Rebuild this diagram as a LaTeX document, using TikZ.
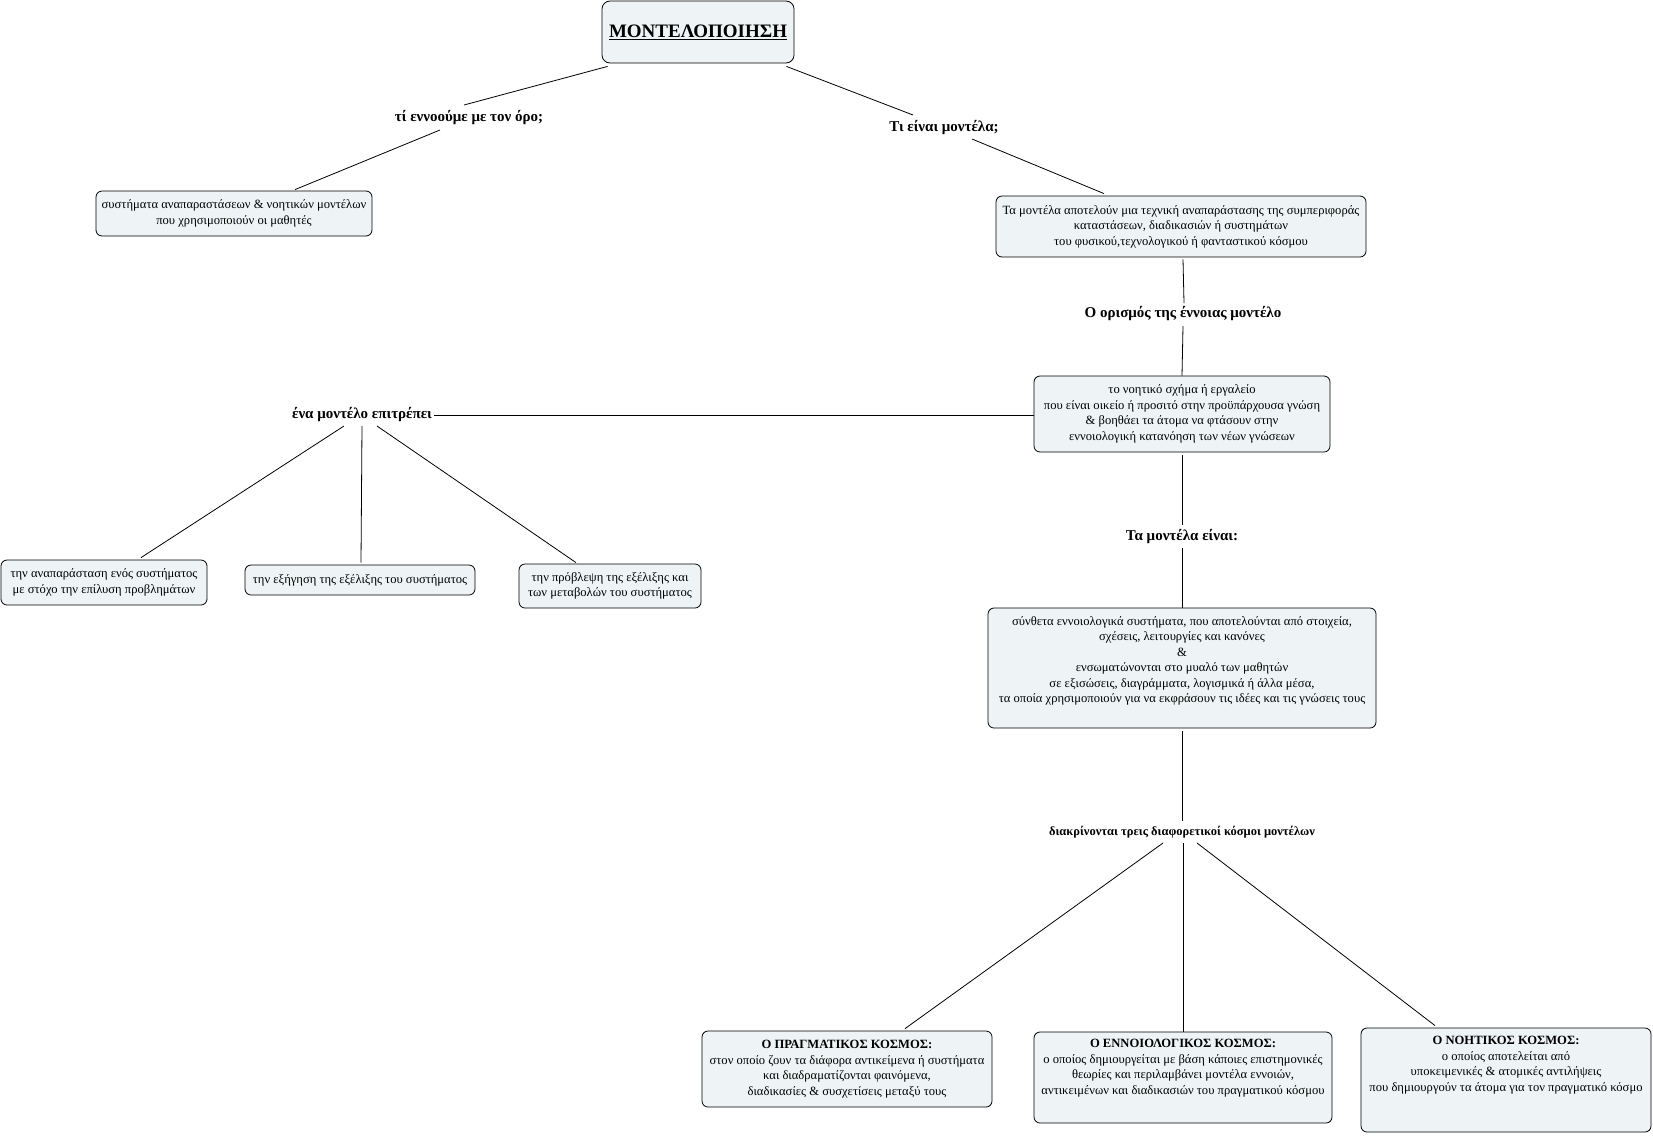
\documentclass[tikz,border=0pt]{standalone}
\usepackage{fontspec}
\setmainfont{Liberation Serif}
\usetikzlibrary{calc}
\definecolor{boxfill}{HTML}{EEF4F5}
\tikzset{
  box/.style={draw=black, fill=boxfill, rounded corners=6pt, line width=0.8pt, inner sep=0pt},
  txt/.style={align=center, font=\fontsize{12.6}{15.5}\selectfont, inner sep=0pt},
  lbl/.style={font=\bfseries\fontsize{15}{17}\selectfont, inner sep=0pt},
  conn/.style={draw=black, line width=0.8pt},
}
\begin{document}
\begin{tikzpicture}[x=1pt,y=-1pt]
\useasboundingbox (0,0) rectangle (1653,1136);
% title
\node[box, rounded corners=8pt, minimum width=192, minimum height=62, font=\bfseries\fontsize{19}{22}\selectfont] (title) at (698,32) {\underline{ΜΟΝΤΕΛΟΠΟΙΗΣΗ}};
% labels
\node[lbl] (q1) at (469,118) {τί εννοούμε με τον όρο;};
\node[lbl] (q2) at (944,128) {Τι είναι μοντέλα;};
\node[lbl] (q3) at (1183,314) {Ο ορισμός της έννοιας μοντέλο};
\node[lbl] (q4) at (362,415) {ένα μοντέλο επιτρέπει};
\node[lbl] (q5) at (1182,537) {Τα μοντέλα είναι:};
\node[lbl, font=\bfseries\fontsize{12.5}{14}\selectfont] (q6) at (1182,832) {διακρίνονται τρεις διαφορετικοί κόσμοι μοντέλων};
% boxes
\node[box, txt, minimum width=276, minimum height=45] (b1) at (234,213.5) {συστήματα αναπαραστάσεων \& νοητικών μοντέλων\\που χρησιμοποιούν οι μαθητές};
\node[box, txt, minimum width=370, minimum height=61] (b2) at (1181,226.5) {Τα μοντέλα αποτελούν μια τεχνική αναπαράστασης της συμπεριφοράς\\καταστάσεων, διαδικασιών ή συστημάτων\\του φυσικού,τεχνολογικού ή φανταστικού κόσμου};
\node[box, txt, minimum width=296, minimum height=76] (b3) at (1182,414) {το νοητικό σχήμα ή εργαλείο\\που είναι οικείο ή προσιτό στην προϋπάρχουσα γνώση\\\& βοηθάει τα άτομα να φτάσουν στην\\εννοιολογική κατανόηση των νέων γνώσεων};
\node[box, txt, minimum width=206, minimum height=45] (l1) at (104,582.5) {την αναπαράσταση ενός συστήματος\\με στόχο την επίλυση προβλημάτων};
\node[box, txt, minimum width=230, minimum height=30] (l2) at (360,580) {την εξήγηση της εξέλιξης του συστήματος};
\node[box, txt, minimum width=182, minimum height=44] (l3) at (610,586) {την πρόβλεψη της εξέλιξης και\\των μεταβολών του συστήματος};
\node[box, minimum width=388, minimum height=120] (b4) at (1182,668) {};
\node[txt] (b4t) at (1182,661) {σύνθετα εννοιολογικά συστήματα, που αποτελούνται από στοιχεία,\\σχέσεις, λειτουργίες και κανόνες\\\&\\ενσωματώνονται στο μυαλό των μαθητών\\σε εξισώσεις, διαγράμματα, λογισμικά ή άλλα μέσα,\\τα οποία χρησιμοποιούν για να εκφράσουν τις ιδέες και τις γνώσεις τους};
\node[box, txt, minimum width=290, minimum height=76] (k1) at (847,1069) {\textbf{Ο ΠΡΑΓΜΑΤΙΚΟΣ ΚΟΣΜΟΣ:}\\στον οποίο ζουν τα διάφορα αντικείμενα ή συστήματα\\και διαδραματίζονται φαινόμενα,\\διαδικασίες \& συσχετίσεις μεταξύ τους};
\node[box, minimum width=298, minimum height=91] (k2) at (1183,1077.5) {};
\node[txt] (k2t) at (1183,1068) {\textbf{Ο ΕΝΝΟΙΟΛΟΓΙΚΟΣ ΚΟΣΜΟΣ:}\\ο οποίος δημιουργείται με βάση κάποιες επιστημονικές\\θεωρίες και περιλαμβάνει μοντέλα εννοιών,\\αντικειμένων και διαδικασιών του πραγματικού κόσμου};
\node[box, minimum width=290, minimum height=104] (k3) at (1506,1080) {};
\node[txt] (k3t) at (1506,1065) {\textbf{Ο ΝΟΗΤΙΚΟΣ ΚΟΣΜΟΣ:}\\ο οποίος αποτελείται από\\υποκειμενικές \& ατομικές αντιλήψεις\\που δημιουργούν τα άτομα για τον πραγματικό κόσμο};
% connectors
\draw[conn] ($(title.south west)+(6,3)$) -- ($(q1.center)+(-5,-13)$);
\draw[conn] ($(title.south east)+(-8,3)$) -- ($(q2.center)+(-31,-13)$);
\draw[conn] ($(q1.center)+(-29,12)$) -- ($(b1.north)+(61,-1)$);
\draw[conn] ($(q2.center)+(28,11)$) -- ($(b2.north)+(-77,-2)$);
\draw[conn] ($(b2.south)+(2,2)$) -- ($(q3.center)+(1,-11)$);
\draw[conn] ($(q3.center)+(0,12)$) -- (b3.north);
\draw[conn] ($(q4.center)+(72,0)$) -- ($(b3.west)+(0,1)$);
\draw[conn] ($(q4.center)+(-18,11)$) -- ($(l1.north)+(37,-2)$);
\draw[conn] ($(q4.center)+(0,11)$) -- ($(l2.north)+(1,-2)$);
\draw[conn] ($(q4.center)+(15,11)$) -- ($(l3.north)+(-34,-1)$);
\draw[conn] ($(b3.south)+(0,3)$) -- ($(q5.center)+(0,-12)$);
\draw[conn] ($(q5.center)+(0,11)$) -- (b4.north);
\draw[conn] ($(b4.south)+(0,3)$) -- ($(q6.center)+(0,-11)$);
\draw[conn] ($(q6.center)+(-19,11)$) -- ($(k1.north)+(58,-2)$);
\draw[conn] ($(q6.center)+(1,11)$) -- (k2.north);
\draw[conn] ($(q6.center)+(15,11)$) -- ($(k3.north)+(-71,-2)$);
\end{tikzpicture}
\end{document}
